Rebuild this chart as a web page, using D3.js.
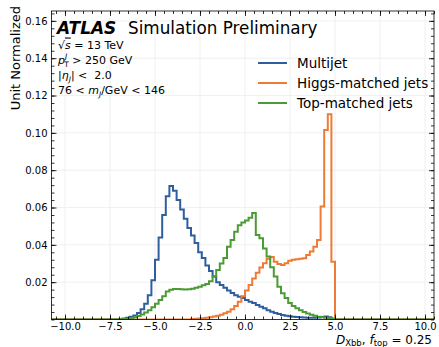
<!DOCTYPE html>
<html>
<head>
<meta charset="utf-8">
<script src="https://cdn.jsdelivr.net/npm/d3@7"></script>
<style>
  body { margin: 0; background: #fff; }
  svg { display: block; font-family: "DejaVu Sans", sans-serif; }
</style>
</head>
<body>
<div id="chart"></div>
<script>
// histogram contents, unit normalized, bins of 0.2 starting at the given edge
const binWidth = 0.2;

const multijetStart = -7.0;
const multijetValues = [
  0.0003, 0.0006, 0.001, 0.0015, 0.0022, 0.0035, 0.0055, 0.0085, 0.013, 0.021,
  0.032, 0.044, 0.056, 0.066, 0.0715, 0.069, 0.064, 0.059, 0.054, 0.049,
  0.045, 0.041, 0.036, 0.033, 0.029, 0.026, 0.023, 0.020, 0.0185, 0.017,
  0.0155, 0.0142, 0.013, 0.0122, 0.0115, 0.0105, 0.0095, 0.0088, 0.0078, 0.0068,
  0.006, 0.005, 0.0042, 0.0035, 0.0029, 0.0024, 0.002, 0.0017, 0.0015, 0.0013,
  0.0012, 0.0011, 0.001, 0.001, 0.001, 0.0011, 0.0013, 0.0016, 0.0012
];

const higgsStart = -3.0;
const higgsValues = [
  0.0003, 0.0004, 0.0005, 0.0007, 0.0009, 0.0012, 0.0016, 0.002, 0.0026, 0.0033,
  0.0042, 0.0055, 0.0072, 0.0095, 0.0125, 0.0155, 0.0185, 0.022, 0.025, 0.0278,
  0.0302, 0.0325, 0.0335, 0.031, 0.0298, 0.0292, 0.0302, 0.0315, 0.032, 0.0323,
  0.0326, 0.0328, 0.0346, 0.0364, 0.039, 0.0426, 0.0605, 0.1015, 0.110, 0.031
];

const topStart = -6.8;
const topValues = [
  0.0002, 0.0004, 0.0007, 0.0012, 0.0019, 0.0027, 0.0037, 0.005, 0.0065, 0.0085,
  0.0105, 0.0125, 0.015, 0.016, 0.0163, 0.0163, 0.0162, 0.0161, 0.0162, 0.0165,
  0.017, 0.0176, 0.0183, 0.019, 0.0205, 0.023, 0.0265, 0.030, 0.033, 0.039,
  0.0426, 0.047, 0.0505, 0.052, 0.053, 0.0545, 0.057, 0.0453, 0.0435, 0.038,
  0.0337, 0.028, 0.023, 0.0175, 0.014, 0.0115, 0.0088, 0.0072, 0.006, 0.005,
  0.004, 0.0032, 0.0025, 0.002, 0.0015, 0.0012, 0.001, 0.0008, 0.0005
];

const seriesNames = ["Multijet", "Higgs-matched jets", "Top-matched jets"];
const seriesColors = ["#2f5e9f", "#ee7b35", "#4c9a34"];

const xTicks = [-10, -7.5, -5, -2.5, 0, 2.5, 5, 7.5, 10];
const yTicks = [0.02, 0.04, 0.06, 0.08, 0.10, 0.12, 0.14, 0.16];

const width = 439, height = 347;
const margin = { top: 11, right: 5, bottom: 27.5, left: 51.5 };
const innerW = width - margin.left - margin.right;
const innerH = height - margin.top - margin.bottom;

const svg = d3.select("#chart").append("svg")
    .attr("width", width)
    .attr("height", height);

const x = d3.scaleLinear().domain([-10.75, 10.5]).range([0, innerW]);
const y = d3.scaleLinear().domain([0, 0.1653]).range([innerH, 0]);

const g = svg.append("g")
    .attr("transform", `translate(${margin.left},${margin.top})`);

g.append("clipPath").attr("id", "plot-clip")
  .append("rect").attr("width", innerW).attr("height", innerH);

// grid
g.append("g").selectAll("line").data(xTicks).join("line")
    .attr("x1", d => x(d)).attr("x2", d => x(d))
    .attr("y1", 0).attr("y2", innerH)
    .attr("stroke", "#ececec").attr("stroke-width", 0.8);
g.append("g").selectAll("line").data(yTicks).join("line")
    .attr("x1", 0).attr("x2", innerW)
    .attr("y1", d => y(d)).attr("y2", d => y(d))
    .attr("stroke", "#ececec").attr("stroke-width", 0.8);

// step outlines, baseline runs across the whole frame
function stepPoints(start, values) {
  const pts = [[-12, 0], [start, 0]];
  values.forEach((v, i) => {
    pts.push([start + i * binWidth, v]);
    pts.push([start + (i + 1) * binWidth, v]);
  });
  const end = start + values.length * binWidth;
  pts.push([end, 0], [12, 0]);
  return pts;
}

const line = d3.line().x(d => x(d[0])).y(d => y(d[1]));
const series = [
  [multijetStart, multijetValues],
  [higgsStart, higgsValues],
  [topStart, topValues]
];

g.append("g").attr("clip-path", "url(#plot-clip)")
  .selectAll("path").data(series).join("path")
    .attr("d", d => line(stepPoints(d[0], d[1])))
    .attr("fill", "none")
    .attr("stroke", (d, i) => seriesColors[i])
    .attr("stroke-width", 2)
    .attr("stroke-linejoin", "miter");

// axes, ticks pointing inwards on all four sides
const xMinor = d3.range(-10.5, 10.51, 0.5);
const yMinor = d3.range(0, 0.1641, 0.004);

function styleAxis(sel) {
  sel.select(".domain").remove();
  sel.selectAll("line").attr("stroke", "#000").attr("stroke-width", 0.8);
  sel.selectAll("text").attr("font-size", 10).attr("fill", "#000")
     .attr("font-family", "DejaVu Sans, sans-serif");
}

g.append("g").attr("transform", `translate(0,${innerH})`)
  .call(d3.axisBottom(x).tickValues(xMinor).tickSize(-3).tickFormat(""))
  .call(styleAxis);
g.append("g").attr("transform", `translate(0,${innerH})`)
  .call(d3.axisBottom(x).tickValues(xTicks).tickSizeInner(-5).tickSizeOuter(0)
        .tickPadding(3).tickFormat(d3.format(".1f")))
  .call(styleAxis);
g.append("g")
  .call(d3.axisTop(x).tickValues(xMinor).tickSize(-3).tickFormat(""))
  .call(styleAxis);
g.append("g")
  .call(d3.axisTop(x).tickValues(xTicks).tickSize(-5).tickFormat(""))
  .call(styleAxis);

g.append("g")
  .call(d3.axisLeft(y).tickValues(yMinor).tickSize(-3).tickFormat(""))
  .call(styleAxis);
g.append("g")
  .call(d3.axisLeft(y).tickValues(yTicks).tickSizeInner(-5).tickSizeOuter(0)
        .tickPadding(4).tickFormat(d3.format(".2f")))
  .call(styleAxis);
g.append("g").attr("transform", `translate(${innerW},0)`)
  .call(d3.axisRight(y).tickValues(yMinor).tickSize(-3).tickFormat(""))
  .call(styleAxis);
g.append("g").attr("transform", `translate(${innerW},0)`)
  .call(d3.axisRight(y).tickValues(yTicks).tickSize(-5).tickFormat(""))
  .call(styleAxis);

g.append("rect")
    .attr("width", innerW).attr("height", innerH)
    .attr("fill", "none").attr("stroke", "#000").attr("stroke-width", 0.8);

// axis titles
svg.append("text")
    .attr("transform", "rotate(-90)")
    .attr("x", -6).attr("y", 20)
    .attr("text-anchor", "end")
    .attr("font-size", 13)
    .text("Unit Normalized");

const xt = svg.append("text")
    .attr("x", 432).attr("y", 343.5)
    .attr("text-anchor", "end")
    .attr("font-size", 12);
xt.append("tspan").attr("font-style", "italic").text("D");
xt.append("tspan").attr("font-size", 8.5).attr("dy", 2.5).text("Xbb");
xt.append("tspan").attr("dy", -2.5).text(", ");
xt.append("tspan").attr("font-style", "italic").text("f");
xt.append("tspan").attr("font-size", 8.5).attr("dy", 2.5).text("top");
xt.append("tspan").attr("dy", -2.5).text(" = 0.25");

// ATLAS label block
svg.append("text")
    .attr("x", 57).attr("y", 34)
    .attr("font-size", 17).attr("font-weight", "bold").attr("font-style", "italic")
    .text("ATLAS");
svg.append("text")
    .attr("x", 128).attr("y", 34)
    .attr("font-size", 16.8)
    .text("Simulation Preliminary");

const infoX = 58, infoSize = 11;
const l1 = svg.append("text").attr("x", infoX).attr("y", 48.5).attr("font-size", infoSize);
l1.append("tspan").text("√");
l1.append("tspan").attr("text-decoration", "overline").attr("font-style", "italic").text("s");
l1.append("tspan").text(" = 13 TeV");

const l2 = svg.append("text").attr("x", infoX).attr("y", 64).attr("font-size", infoSize);
l2.append("tspan").attr("font-style", "italic").text("p");
l2.append("tspan").attr("font-size", 7.5).attr("dy", -5).attr("font-style", "italic").text("J");
l2.append("tspan").attr("font-size", 7.5).attr("dx", -3).attr("dy", 8).text("T");
l2.append("tspan").attr("dy", -3).text(" > 250 GeV");

const l3 = svg.append("text").attr("x", infoX).attr("y", 79).attr("font-size", infoSize);
l3.append("tspan").text("|");
l3.append("tspan").attr("font-style", "italic").text("η");
l3.append("tspan").attr("font-size", 7.5).attr("dy", 3).attr("font-style", "italic").text("J");
l3.append("tspan").attr("dy", -3).text("| <\u00a0 2.0");

const l4 = svg.append("text").attr("x", infoX).attr("y", 94).attr("font-size", infoSize);
l4.append("tspan").text("76 < ");
l4.append("tspan").attr("font-style", "italic").text("m");
l4.append("tspan").attr("font-size", 7.5).attr("dy", 3).attr("font-style", "italic").text("J");
l4.append("tspan").attr("dy", -3).text("/GeV < 146");

// legend
const legend = svg.append("g").attr("transform", "translate(258,63)");
const items = legend.selectAll("g").data(seriesNames).join("g")
    .attr("transform", (d, i) => `translate(0,${i * 20})`);
items.append("line")
    .attr("x1", 0).attr("x2", 29)
    .attr("stroke", (d, i) => seriesColors[i])
    .attr("stroke-width", 2);
items.append("text")
    .attr("x", 39).attr("dy", "0.35em")
    .attr("font-size", 13.5)
    .text(d => d);
</script>
</body>
</html>
